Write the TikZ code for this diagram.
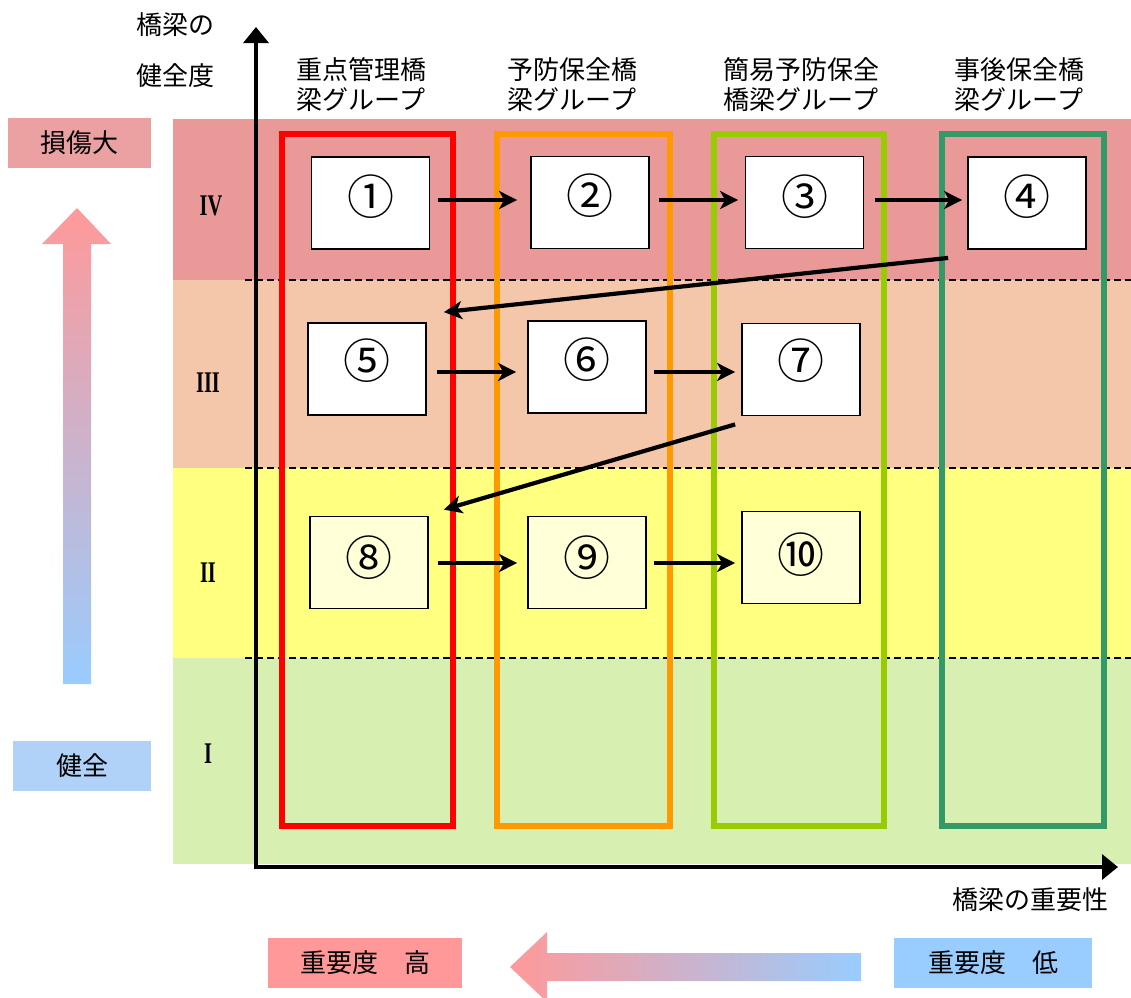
\documentclass[tikz,border=0pt]{standalone}
\usepackage{fontspec}
\newfontfamily\jp{Noto Sans CJK JP}
\newfontfamily\romanfont{Liberation Serif}
\usetikzlibrary{arrows.meta}
\definecolor{bandIV}{HTML}{EA9999}
\definecolor{bandIII}{HTML}{F4C7AA}
\definecolor{bandII}{HTML}{FFFF80}
\definecolor{bandI}{HTML}{D7EFB0}
\definecolor{grpred}{HTML}{FF0000}
\definecolor{grporange}{HTML}{FF9900}
\definecolor{grplime}{HTML}{99CC00}
\definecolor{grpgreen}{HTML}{339966}
\definecolor{pinkA}{HTML}{FF9999}
\definecolor{blueA}{HTML}{99CCFF}
\definecolor{damage}{HTML}{EBA1A1}
\definecolor{sound}{HTML}{B0D2F8}
\definecolor{paleyellow}{HTML}{FFFFD8}
\begin{document}
\begin{tikzpicture}[x=1pt,y=-1pt,
  jplabel/.style={font=\jp\fontsize{26}{30}\selectfont, inner sep=0pt, align=center},
  tagbox/.style={jplabel, minimum height=50pt},
  stagebox/.style={draw=black, line width=1.8pt, fill=white, minimum width=118pt, minimum height=92pt, inner sep=0pt},
  num/.style={font=\jp\fontsize{47}{47}\selectfont, inner sep=0pt},
  roman/.style={font=\romanfont\bfseries\fontsize{30}{30}\selectfont, inner sep=0pt},
  flow/.style={line width=4.2pt, -{Stealth[length=18pt,width=18pt,inset=5pt]}},
  grp/.style={line width=6pt},
  sep/.style={dash pattern=on 7pt off 4pt, line width=1.5pt},
  axis/.style={line width=3.5pt, -{Triangle[length=16pt,width=25pt]}}
]
\useasboundingbox (0,0) rectangle (1131,997);

% bands
\fill[bandIV] (173,119) rectangle (1131,280);
\fill[bandIII] (173,280) rectangle (1131,468);
\fill[bandII] (173,468) rectangle (1131,658);
\fill[bandI] (173,658) rectangle (1131,864);

% separators
\draw[sep] (245,280) -- (1131,280);
\draw[sep] (245,468) -- (1131,468);
\draw[sep] (245,658) -- (1131,658);

% group rectangles
\draw[grp, grpred] (282,134) rectangle (453,826);
\draw[grp, grporange] (497,134) rectangle (670,826);
\draw[grp, grplime] (714,134) rectangle (884,826);
\draw[grp, grpgreen] (942,134) rectangle (1104,826);

% axes
\coordinate (O) at (256,867);
\coordinate (ytip) at (256,27);
\coordinate (xtip) at (1118,867);
\draw[axis] ([yshift=-1.75pt]O) -- (ytip);
\draw[axis] ([xshift=-1.75pt]O) -- (xtip);

% axis labels
\node[jplabel] (yl1) at (175,25) {橋梁の};
\node[jplabel] (yl2) at (175,76) {健全度};
\node[jplabel] (xl) at (1030,900) {橋梁の重要性};

% group labels
\node[jplabel] (gl1) at (361,85) {重点管理橋\\梁グループ};
\node[jplabel] (gl2) at (572,85) {予防保全橋\\梁グループ};
\node[jplabel] (gl3) at (801,85) {簡易予防保全\\橋梁グループ};
\node[jplabel] (gl4) at (1019,85) {事後保全橋\\梁グループ};

% roman numerals
\node[roman] (r4) at (211,206) {\scalebox{0.68}[1]{IV}};
\node[roman] (r3) at (208,383) {\scalebox{0.68}[1]{III}};
\node[roman] (r2) at (208,573) {\scalebox{0.68}[1]{II}};
\node[roman] (r1) at (208,754) {\scalebox{0.68}[1]{I}};

% stage boxes
\node[stagebox] (b1) at (370.5,203) {};
\node[stagebox] (b2) at (590,202.5) {};
\node[stagebox] (b3) at (804.5,202.5) {};
\node[stagebox] (b4) at (1027,203) {};
\node[stagebox] (b5) at (367,369) {};
\node[stagebox] (b6) at (587,367) {};
\node[stagebox] (b7) at (801,369.5) {};
\node[stagebox, fill=paleyellow] (b8) at (369,562.5) {};
\node[stagebox, fill=paleyellow] (b9) at (587,562.5) {};
\node[stagebox, fill=paleyellow] (b10) at (801,557.5) {};

\node[num] (n1) at ([yshift=6pt]b1.center) {①};
\node[num] (n2) at ([yshift=7pt]b2.center) {②};
\node[num] (n3) at ([yshift=6pt]b3.center) {③};
\node[num] (n4) at ([yshift=6pt]b4.center) {④};
\node[num] (n5) at ([yshift=8pt]b5.center) {⑤};
\node[num] (n6) at ([yshift=7pt]b6.center) {⑥};
\node[num] (n7) at ([yshift=9pt]b7.center) {⑦};
\node[num] (n8) at ([yshift=5pt]b8.center) {⑧};
\node[num] (n9) at ([yshift=5pt]b9.center) {⑨};
\node[num] (n10) at ([yshift=3pt]b10.center) {⑩};

% flow arrows
\draw[flow, shorten <=8pt, shorten >=13pt] ([yshift=3pt]b1.east) -- ([yshift=2.5pt]b2.west);
\draw[flow, shorten <=9pt, shorten >=6.5pt] ([yshift=2.5pt]b2.east) -- ([yshift=2.5pt]b3.west);
\draw[flow, shorten <=10.5pt, shorten >=5pt] ([yshift=2.5pt]b3.east) -- ([yshift=3pt]b4.west);
\draw[flow, shorten <=10pt, shorten >=11pt] ([yshift=-3pt]b5.east) -- ([yshift=-5pt]b6.west);
\draw[flow, shorten <=7pt, shorten >=6pt] ([yshift=-5pt]b6.east) -- ([yshift=-2.5pt]b7.west);
\draw[flow, shorten <=9pt, shorten >=10pt] ([yshift=-0.5pt]b8.east) -- ([yshift=-0.5pt]b9.west);
\draw[flow, shorten <=7pt, shorten >=6pt] ([yshift=-0.5pt]b9.east) -- ([yshift=-5.5pt]b10.west);
\draw[flow] ([shift={(-19,8)}]b4.south west) -- ([shift={(17,-10)}]b5.north east);
\draw[flow] ([shift={(-6,8)}]b7.south west) -- ([shift={(15,-6)}]b8.north east);

% left tags and arrow
\node[tagbox, fill=damage, minimum width=143pt] (dmg) at (79.5,143) {損傷大};
\node[tagbox, fill=sound, minimum width=138pt] (snd) at (82,766) {健全};
\shade[top color=pinkA, bottom color=blueA]
  (63,684) -- (63,244) -- (42,244) -- (77,208) -- (111,244) -- (91,244) -- (91,684) -- cycle;

% bottom tags and arrow
\node[tagbox, fill=pinkA, minimum width=194pt] (hi) at (365,963) {重要度　高};
\node[tagbox, fill=blueA, minimum width=198pt] (lo) at (993,963) {重要度　低};
\shade[left color=pinkA, right color=blueA]
  (861,953) -- (547,953) -- (547,932) -- (510,967) -- (547,1002) -- (547,981) -- (861,981) -- cycle;
\end{tikzpicture}
\end{document}
